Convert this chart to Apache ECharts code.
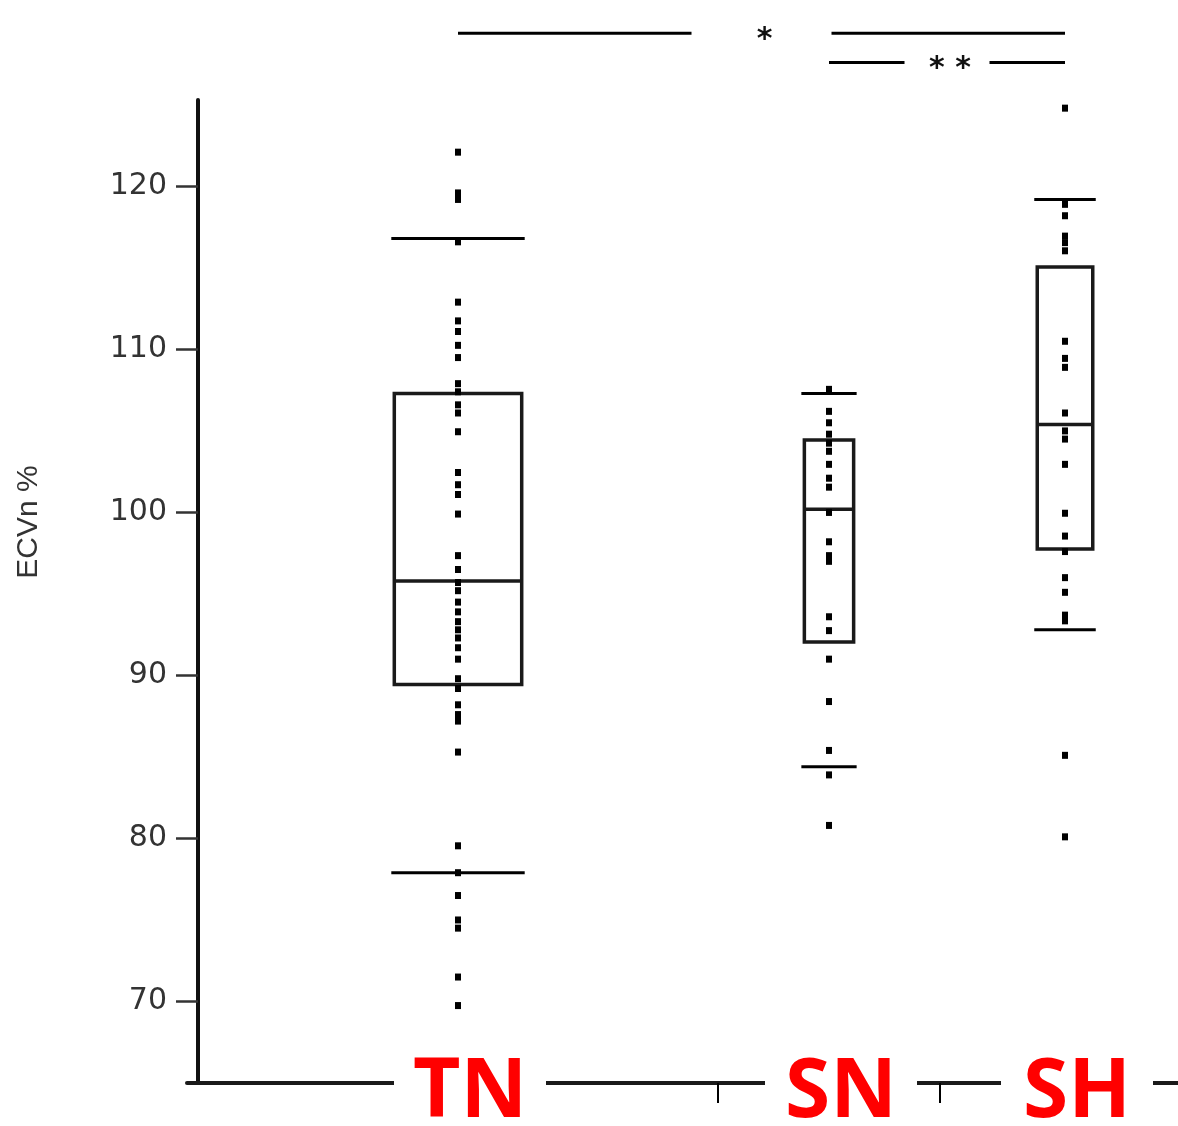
<!DOCTYPE html>
<html>
<head>
<meta charset="utf-8">
<script src="https://cdn.jsdelivr.net/npm/echarts@6/dist/echarts.min.js"></script>
<style>html,body{margin:0;padding:0;background:#fff}#c{width:1178px;height:1126px}</style>
</head>
<body>
<div id="c"></div>
<script>
// ---- data ----
const groups = ['TN', 'SN', 'SH'];
// relative band widths of the groups on the x axis (JMP-style, proportional to group size)
const groupWidths = [520, 222, 250];
// quantile boxes
const whiskerLow = [77.9, 84.4, 92.8];
const q1 = [89.45, 92.05, 97.75];
const median = [95.8, 100.2, 105.4];
const q3 = [107.3, 104.45, 115.05];
const whiskerHigh = [116.8, 107.3, 119.2];
// individual observations
const tnValues = [122.1, 119.6, 119.2, 116.6, 112.9, 111.75, 111.1, 110.25, 109.5, 107.9, 107.4, 106.6, 106.1, 104.95, 102.45, 101.7, 101.1, 99.9, 97.35, 96.5, 95.7, 95.2, 94.5, 93.9, 93.3, 92.8, 92.3, 91.7, 91.0, 89.8, 89.2, 88.2, 87.6, 87.2, 85.3, 79.55, 77.9, 76.5, 75.0, 74.5, 71.5, 69.75];
const snValues = [107.55, 106.2, 105.5, 104.8, 104.25, 103.75, 102.95, 102.1, 101.55, 100.0, 98.2, 97.35, 97.0, 93.6, 92.75, 91.0, 88.4, 85.4, 83.9, 80.8];
const shValues = [124.8, 118.9, 118.2, 116.95, 116.55, 116.05, 110.5, 109.45, 108.9, 106.1, 105.0, 104.5, 102.95, 99.95, 98.55, 97.6, 96.0, 95.1, 93.7, 93.35, 85.1, 80.1];
// y axis
const yTickLabels = [70, 80, 90, 100, 110, 120];
const yMinorTicks = [75, 85, 95, 105, 115];
const yMin = 65, yMax = 125.3;
// significance brackets
const bracketFrom = ['TN', 'SN'];
const bracketTo = ['SH', 'SH'];
const bracketLevel = [129.4, 127.6];
const bracketLabel = ['*', '* *'];
const yAxisTitle = 'ECVn %';

// ---- derived ----
const bounds = [0];
groupWidths.forEach((w, i) => bounds.push(bounds[i] + w));
const centers = groupWidths.map((w, i) => bounds[i] + w / 2);
const valueSets = [tnValues, snValues, shValues];

// style constants
const boxFrac = [0.245, 0.222, 0.222];
const gapPx = [140, 85];

const boxData = groups.map((g, i) => [centers[i], whiskerLow[i], q1[i], median[i], q3[i], whiskerHigh[i]]);
const pointData = [];
valueSets.forEach((vals, i) => vals.forEach(v => pointData.push([centers[i], v])));
const bracketData = bracketFrom.map((f, i) => [centers[groups.indexOf(f)], centers[groups.indexOf(bracketTo[i])], bracketLevel[i]]);
const labelData = groups.map((g, i) => [centers[i], yMin]);

const chart = echarts.init(document.getElementById('c'));
const option = {
  animation: false,
  backgroundColor: '#fff',
  grid: { left: 187, right: 0, top: 100, bottom: 43 },
  xAxis: {
    type: 'value', min: -11, max: 980,
    splitLine: { show: false },
    axisLine: { lineStyle: { color: '#1a1a1a', width: 4 } },
    axisTick: { show: true, customValues: bounds.slice(1, -1), length: 20, lineStyle: { color: '#000', width: 2 } },
    axisLabel: { show: false }
  },
  yAxis: [{
    type: 'value', min: yMin, max: yMax,
    splitLine: { show: false },
    axisLine: { show: true, onZero: true, lineStyle: { color: '#111', width: 4 } },
    axisTick: { show: true, customValues: yTickLabels, length: 22, lineStyle: { color: '#333', width: 2.5 } },
    axisLabel: { customValues: yTickLabels, margin: 20, color: '#333', fontFamily: 'DejaVu Sans', fontSize: 30 }
  }, {
    type: 'value', min: yMin, max: yMax,
    splitLine: { show: false },
    axisLine: { show: false, onZero: true },
    axisTick: { show: true, customValues: yMinorTicks, length: 13, lineStyle: { color: '#333', width: 2.5 } },
    axisLabel: { show: false }
  }],
  graphic: [{
    type: 'text', x: 29, y: 522, rotation: Math.PI / 2,
    style: { text: yAxisTitle, fill: '#333', font: '30px "Liberation Sans"', textAlign: 'center', textVerticalAlign: 'middle' }
  }],
  series: [{
    type: 'custom',
    data: boxData,
    z: 3,
    renderItem: function (params, api) {
      const i = params.dataIndex;
      const cx = api.coord([api.value(0), yMin])[0];
      const w = api.size([groupWidths[i], 0])[0] * boxFrac[i];
      const y = k => api.coord([api.value(0), api.value(k)])[1];
      const wl = y(1), b1 = y(2), md = y(3), b3 = y(4), wh = y(5);
      const ls = { stroke: '#1a1a1a', lineWidth: 3.5, fill: null };
      const ws = { stroke: '#000', lineWidth: 3 };
      return {
        type: 'group',
        children: [
          { type: 'rect', shape: { x: cx - w / 2, y: b3, width: w, height: b1 - b3 }, style: ls },
          { type: 'line', shape: { x1: cx - w / 2, y1: md, x2: cx + w / 2, y2: md }, style: ls },
          { type: 'line', shape: { x1: cx - w / 2 - 3, y1: wl, x2: cx + w / 2 + 3, y2: wl }, style: ws },
          { type: 'line', shape: { x1: cx - w / 2 - 3, y1: wh, x2: cx + w / 2 + 3, y2: wh }, style: ws }
        ]
      };
    }
  }, {
    type: 'scatter',
    data: pointData,
    symbol: 'rect',
    symbolSize: [6, 7],
    itemStyle: { color: '#000', opacity: 1 },
    z: 4
  }, {
    type: 'custom',
    data: bracketData,
    clip: false,
    z: 3,
    renderItem: function (params, api) {
      const i = params.dataIndex;
      const p1 = api.coord([api.value(0), api.value(2)]);
      const p2 = api.coord([api.value(1), api.value(2)]);
      const mid = (p1[0] + p2[0]) / 2;
      const g = gapPx[i] / 2;
      const st = { stroke: '#000', lineWidth: 3 };
      return {
        type: 'group',
        children: [
          { type: 'line', shape: { x1: p1[0], y1: p1[1], x2: mid - g, y2: p1[1] }, style: st },
          { type: 'line', shape: { x1: mid + g, y1: p1[1], x2: p2[0], y2: p1[1] }, style: st },
          { type: 'text', x: mid + 3, y: p1[1] + 7, style: { text: bracketLabel[i], fill: '#111', font: 'bold 30px "DejaVu Sans"', textAlign: 'center', textVerticalAlign: 'middle' } }
        ]
      };
    }
  }, {
    type: 'custom',
    data: labelData,
    clip: false,
    z: 5,
    renderItem: function (params, api) {
      const i = params.dataIndex;
      const p = api.coord([api.value(0), api.value(1)]);
      const x = p[0] + 12;
      return {
        type: 'group',
        children: [
          { type: 'rect', shape: { x: x - 76, y: p[1] - 8, width: 152, height: 16 }, style: { fill: '#fff' } },
          { type: 'text', x: x, y: p[1] + 11, style: { text: groups[i], fill: '#ff0000', font: 'bold 82px "Open Sans"', textAlign: 'center', textVerticalAlign: 'middle' } }
        ]
      };
    }
  }]
};
chart.setOption(option);
</script>
</body>
</html>
